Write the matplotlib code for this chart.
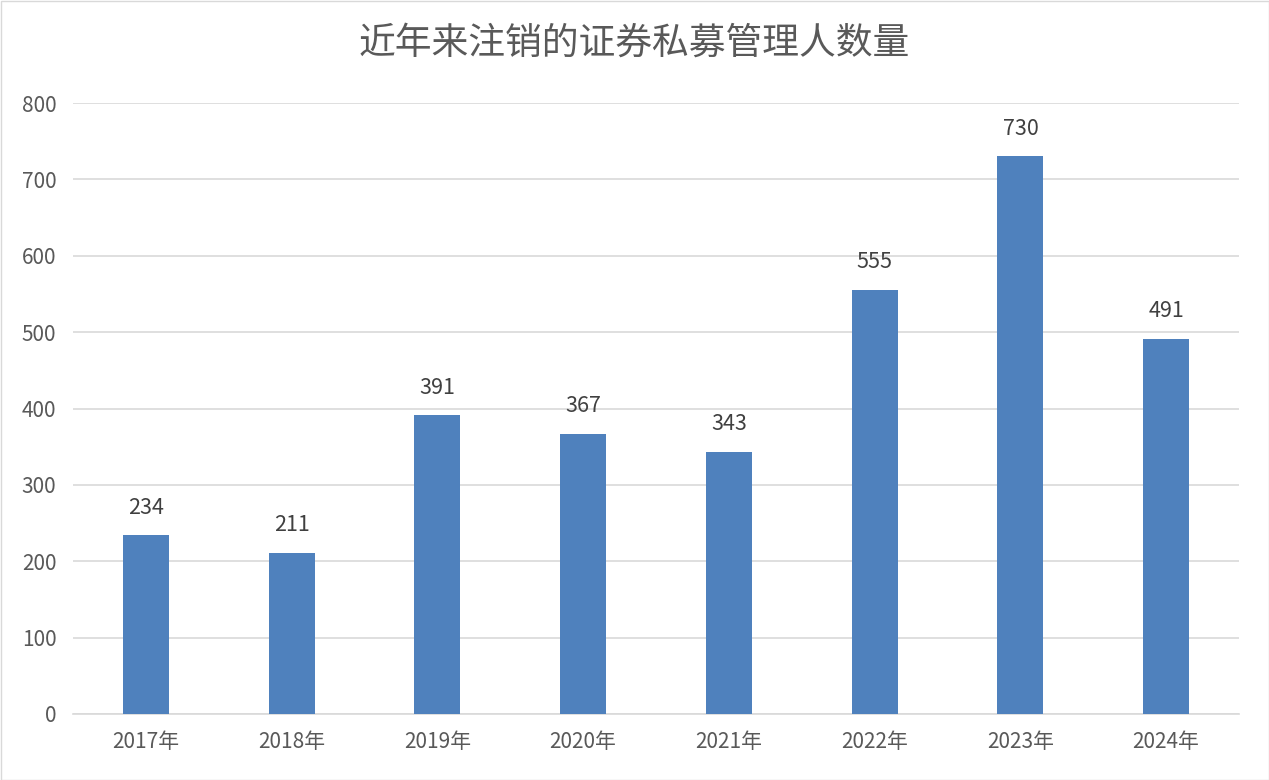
import matplotlib
matplotlib.use("Agg")
import matplotlib.pyplot as plt
from matplotlib.patches import Rectangle

plt.rcParams['font.family'] = ['Noto Sans CJK SC', 'DejaVu Sans']

categories = ["2017年", "2018年", "2019年", "2020年", "2021年", "2022年", "2023年", "2024年"]
values = [234, 211, 391, 367, 343, 555, 730, 491]
title = "近年来注销的证券私募管理人数量"

fig = plt.figure(figsize=(12.69, 7.8), dpi=100)
ax = fig.add_axes([73/1269, 1-714/780, (1239-73)/1269, (714-103)/780])

x = list(range(len(categories)))
ax.bar(x, values, width=0.316, color="#4F81BD", zorder=3)
for xi, v in zip(x, values):
    ax.annotate(str(v), (xi, v), xytext=(0, 12), textcoords="offset points",
                ha="center", va="bottom", fontsize=15.5, color="#404040")

ax.set_xlim(-0.5, len(categories)-0.5)
ax.set_ylim(0, 800)
ax.set_yticks(range(0, 801, 100))
ax.set_xticks(x)
ax.set_xticklabels(categories)
ax.tick_params(axis='both', length=0, labelsize=15, colors="#595959")
ax.tick_params(axis='y', pad=12)
ax.tick_params(axis='x', pad=12)
ax.grid(axis='y', color="#D9D9D9", linewidth=1.2, zorder=0)
for s in ["top", "right", "left"]:
    ax.spines[s].set_visible(False)
ax.spines["bottom"].set_color("#D9D9D9")
ax.spines["bottom"].set_linewidth(1.2)

fig.text(0.5, 1-43/780, title, ha="center", va="center", fontsize=26.5, color="#595959")
fig.patches.append(Rectangle((0.5/1269, 0.5/780), 1-1/1269, 1-1/780, transform=fig.transFigure,
                             fill=False, edgecolor="#D9D9D9", linewidth=1))

fig.savefig("out.png", dpi=100)
